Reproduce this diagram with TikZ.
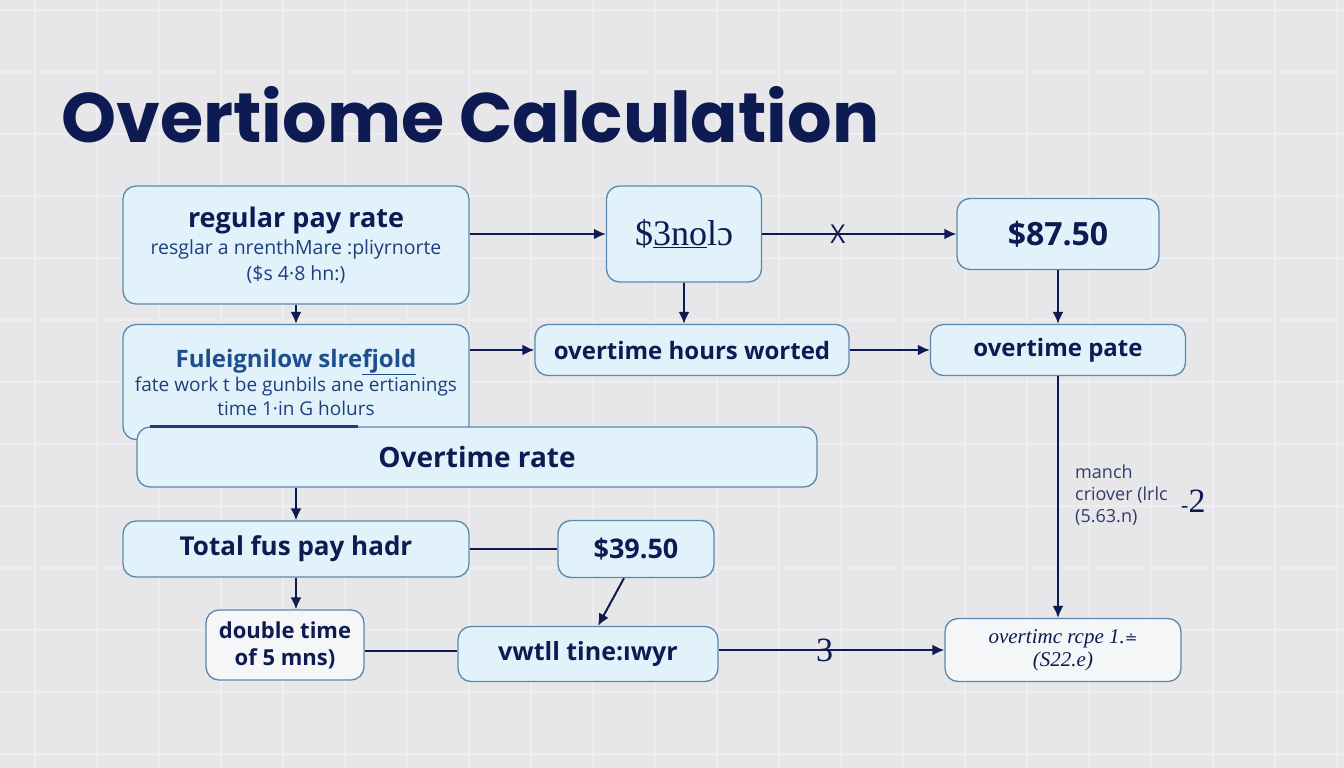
\documentclass[tikz,border=0pt]{standalone}
\usepackage{fontspec}
\setmainfont{Open Sans}
\newfontfamily\titlefont{Poppins}
\newfontfamily\handfont{Liberation Serif}
\newfontfamily\symfont{DejaVu Sans}
\usetikzlibrary{arrows.meta,positioning}

\definecolor{navy}{HTML}{0E1A52}
\definecolor{paper}{HTML}{E7E7E9}
\definecolor{gridline}{HTML}{EEEEF0}
\definecolor{boxfill}{HTML}{E1F2FB}
\definecolor{softfill}{HTML}{F4F6F8}
\definecolor{boxline}{HTML}{5B88AE}
\definecolor{subtext}{HTML}{1E3F7C}
\definecolor{headblue}{HTML}{1F4E8F}

\begin{document}
\begin{tikzpicture}[x=1pt,y=-1pt,>={Latex[length=12pt,width=11pt]},
    box/.style={draw=boxline,line width=1.3pt,fill=boxfill,rounded corners=13pt,
                align=center,text=navy,inner sep=3pt},
    soft/.style={box,fill=softfill},
    hand/.style={text=navy,font=\handfont\fontsize{34}{34}\selectfont}]

    \useasboundingbox (0,0) rectangle (1344,768);
    \fill[paper] (0,0) rectangle (1344,768);
    \foreach \x in {35,97,...,1344} \draw[gridline,line width=1.2pt] (\x,0) -- (\x,768);
    \foreach \y in {10,72,...,768} \draw[gridline,line width=1.2pt] (0,\y) -- (1344,\y);

    \node[anchor=base west,text=navy,font=\titlefont\bfseries\fontsize{70}{76}\selectfont]
        (title) at (58,142) {Overtiome Calculation};

    % top row
    \node[box,minimum width=346pt,minimum height=118pt,font=\fontsize{19.5}{26}\selectfont] (reg) at (296,245)
        {{\fontsize{27}{31}\selectfont\bfseries regular pay rate}\\[1pt]
         {\color{subtext}resglar a nrenthMare :pliyrnorte}\\
         {\color{subtext}(\$s 4·8 hn:)}};
    \node[box,minimum width=155pt,minimum height=96pt,font=\handfont\fontsize{36}{36}\selectfont] (dol) at (684,234)
        {\$\underline{3no}lɔ};
    \node[box,minimum width=202pt,minimum height=71pt,font=\fontsize{32}{34}\selectfont\bfseries] (big) at (1058,234)
        {\$87.50};

    % second row
    \node[box,minimum width=346pt,minimum height=115pt,font=\fontsize{19}{24}\selectfont] (fule) at (296,382)
        {{\color{headblue}\fontsize{24}{29}\selectfont\bfseries Fuleignilow slre\underline{fjold}}\\
         {\color{subtext}fate work t be gunbils ane ertianings}\\
         {\color{subtext}time 1·in G holurs}};
    \node[box,minimum width=314pt,minimum height=51pt,font=\fontsize{24}{28}\selectfont\bfseries] (hours) at (692,350)
        {overtime hours worted};
    \node[box,minimum width=255pt,minimum height=51pt,font=\fontsize{24}{28}\selectfont\bfseries] (pate) at (1058,350)
        {overtime pate};

    % wide bar
    \node[box,minimum width=680pt,minimum height=60pt,font=\fontsize{28}{32}\selectfont\bfseries] (orate) at (477,457)
        {Overtime rate};
    \draw[draw=subtext,line width=3pt] ([xshift=14pt]orate.north west) -- ([xshift=222pt]orate.north west);

    % lower rows
    \node[box,minimum width=346pt,minimum height=56pt,font=\fontsize{26}{30}\selectfont\bfseries] (total) at (296,549)
        {Total fus pay hadr};
    \node[box,minimum width=156pt,minimum height=57pt,font=\fontsize{27}{30}\selectfont\bfseries] (mid) at (636,549)
        {\$39.50};
    \node[soft,minimum width=158pt,minimum height=70pt,font=\fontsize{22}{27}\selectfont\bfseries] (dbl) at (285,645)
        {double time\\of 5 mns)};
    \node[box,minimum width=260pt,minimum height=55pt,font=\fontsize{25}{28}\selectfont\bfseries] (vwtl) at (588,654)
        {vwtll tine:ıwyr};
    \node[soft,minimum width=236pt,minimum height=63pt,font=\handfont\itshape\fontsize{21}{23}\selectfont] (final) at (1063,650)
        {overtimc rcpe 1.{\symfont\upshape\fontsize{15}{15}\selectfont ≐}\\(S22.e)};

    % side note
    \node[anchor=north west,align=left,text=navy!85,font=\fontsize{18}{22}\selectfont,inner sep=0pt] (note) at (1075,465)
        {manch\\criover (lrlc\\(5.63.n)};
    \node[hand,anchor=west,inner sep=0pt] (two) at (1181,501) {{\fontsize{22}{22}\selectfont -}2};

    \path[->,navy,line width=2pt]
        (reg.east |- dol.west) edge (dol.west)
        (dol.east) edge node[pos=0.39,font=\fontsize{26}{26}\selectfont,text=navy,inner sep=0pt] {X} (big.west)
        (dol.south) edge (dol.south |- hours.north)
        (big.south) edge (pate.north)
        (reg.south) edge (reg.south |- fule.north)
        (fule.east |- hours.west) edge (hours.west)
        (hours.east) edge (pate.west)
        (pate.south) edge (pate.south |- final.north)
        (total.north |- orate.south) edge (total.north)
        (total.south) edge (total.south |- dbl.north)
        ([xshift=-12pt]mid.south) edge ([xshift=10pt]vwtl.north)
        (vwtl.east |- final.west) edge node[pos=0.47,hand,inner sep=0pt] {3} (final.west);
    \draw[navy,line width=2pt] (total.east) -- (mid.west);
    \draw[navy,line width=2pt] ([yshift=-6pt]dbl.east) -- ([yshift=-6pt]dbl.east -| vwtl.west);

\end{tikzpicture}
\end{document}
